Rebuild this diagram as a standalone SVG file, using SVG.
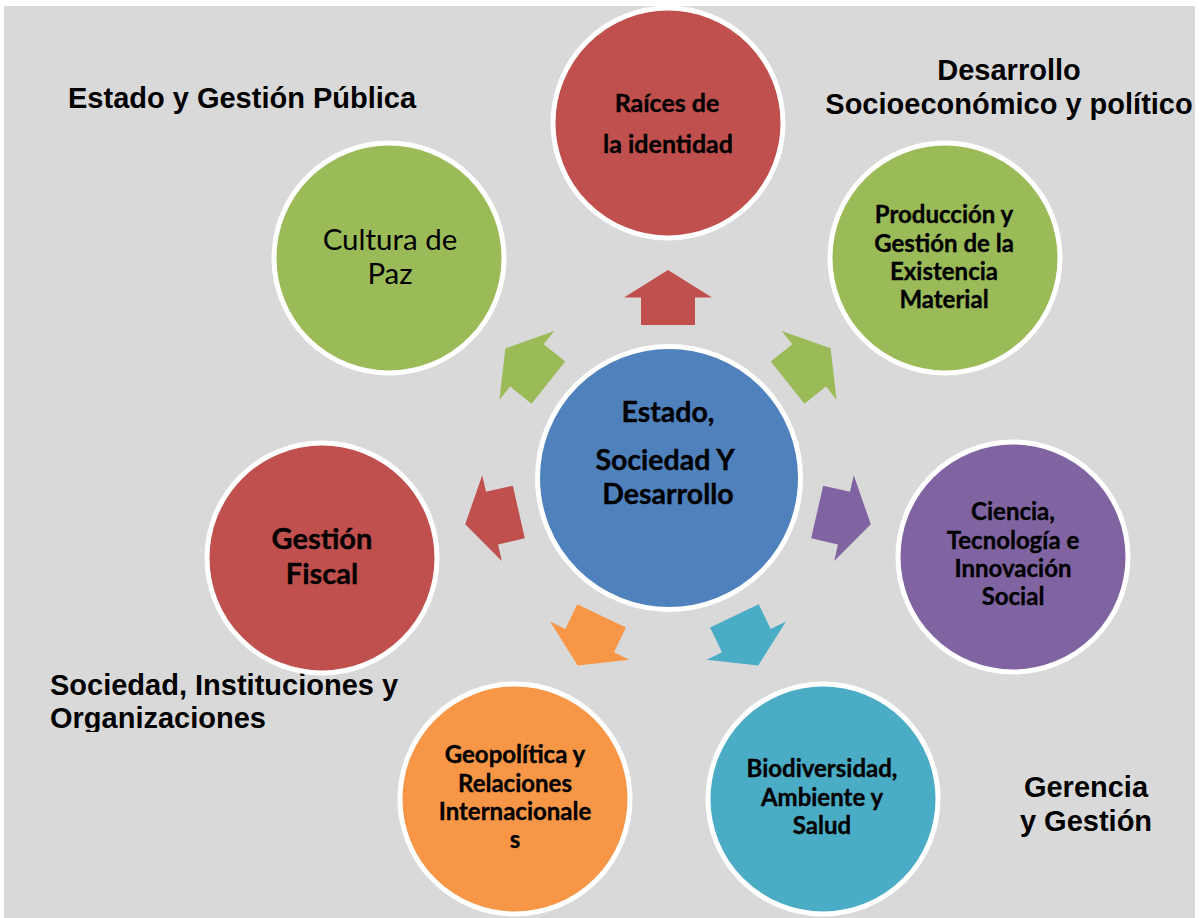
<svg xmlns="http://www.w3.org/2000/svg" width="1201" height="918" viewBox="0 0 1201 918">
  <style>
    .node { stroke: #ffffff; stroke-width: 5; }
    .red { fill: #c0504d; }
    .green { fill: #9bbb59; }
    .blue { fill: #4f81bd; }
    .purple { fill: #8064a2; }
    .orange { fill: #f79646; }
    .teal { fill: #4bacc6; }
    .lbl { font-family: Lato, "Carlito", "Liberation Sans", sans-serif; font-weight: bold; font-size: 24px; fill: #000; stroke: #000; stroke-width: 0.35; text-anchor: middle; }
    .mid { font-size: 25px; }
    .big { font-size: 29px; }
    .ctr { font-size: 28.5px; }
    .reg { font-family: Lato, "Carlito", "Liberation Sans", sans-serif; font-weight: normal; font-size: 29.5px; fill: #000; text-anchor: middle; }
    .head { font-family: "Liberation Sans", Arial, sans-serif; font-weight: bold; font-size: 29px; fill: #000; }
  </style>
  <defs>
    <path id="arrow" d="M668,270 L712,297.5 L695,297.5 L695,325 L641,325 L641,297.5 L624,297.5 Z"/>
    <clipPath id="clipOrg"><rect x="0" y="0" width="1201" height="732"/></clipPath>
  </defs>

  <rect x="4" y="6" width="1191" height="912" fill="#d9d9d9"/>

  <g id="headings">
    <text class="head" x="68" y="108">Estado y Gestión Pública</text>
    <text class="head" x="1009" y="80" text-anchor="middle">Desarrollo</text>
    <text class="head" x="1009" y="114" text-anchor="middle">Socioeconómico y político</text>
    <g clip-path="url(#clipOrg)">
      <text class="head" x="50" y="695">Sociedad, Instituciones y</text>
      <text class="head" x="50" y="728">Organizaciones</text>
    </g>
    <text class="head" x="1086" y="797" text-anchor="middle">Gerencia</text>
    <text class="head" x="1086" y="831" text-anchor="middle">y Gestión</text>
  </g>

  <g id="connectors">
    <use href="#arrow" class="red"/>
    <use href="#arrow" class="green" transform="rotate(51.4286 668 478)"/>
    <use href="#arrow" class="purple" transform="rotate(102.857 668 478)"/>
    <use href="#arrow" class="teal" transform="rotate(154.286 668 478)"/>
    <use href="#arrow" class="orange" transform="rotate(205.714 668 478)"/>
    <use href="#arrow" class="red" transform="rotate(257.143 668 478)"/>
    <use href="#arrow" class="green" transform="rotate(308.571 668 478)"/>
  </g>

  <g id="center">
    <circle class="node blue" cx="669" cy="478" r="131.5"/>
    <text class="lbl ctr" x="668" y="422">Estado,</text>
    <text class="lbl ctr" x="665" y="470">Sociedad Y</text>
    <text class="lbl ctr" x="668" y="504">Desarrollo</text>
  </g>

  <g id="raices">
    <circle class="node red" cx="668" cy="123" r="115"/>
    <text class="lbl mid" x="667" y="112">Raíces de</text>
    <text class="lbl mid" x="668" y="153">la identidad</text>
  </g>

  <g id="produccion">
    <circle class="node green" cx="945" cy="258" r="115"/>
    <text class="lbl" x="944" y="223">Producción y</text>
    <text class="lbl" x="944" y="252">Gestión de la</text>
    <text class="lbl" x="944" y="280">Existencia</text>
    <text class="lbl" x="944" y="308">Material</text>
  </g>

  <g id="ciencia">
    <circle class="node purple" cx="1013" cy="557" r="115"/>
    <text class="lbl" x="1013" y="520">Ciencia,</text>
    <text class="lbl" x="1013" y="549">Tecnología e</text>
    <text class="lbl" x="1013" y="577">Innovación</text>
    <text class="lbl" x="1013" y="605">Social</text>
  </g>

  <g id="biodiversidad">
    <circle class="node teal" cx="823" cy="799" r="115"/>
    <text class="lbl" x="822" y="777">Biodiversidad,</text>
    <text class="lbl" x="822" y="806">Ambiente y</text>
    <text class="lbl" x="822" y="834">Salud</text>
  </g>

  <g id="geopolitica">
    <circle class="node orange" cx="515" cy="799" r="115"/>
    <text class="lbl" x="515" y="763">Geopolítica y</text>
    <text class="lbl" x="515" y="792">Relaciones</text>
    <text class="lbl" x="515" y="820">Internacionale</text>
    <text class="lbl" x="515" y="848">s</text>
  </g>

  <g id="fiscal">
    <circle class="node red" cx="322" cy="558" r="115"/>
    <text class="lbl big" x="322" y="549">Gestión</text>
    <text class="lbl big" x="322" y="584">Fiscal</text>
  </g>

  <g id="cultura">
    <circle class="node green" cx="389" cy="258" r="115"/>
    <text class="reg" x="390" y="250">Cultura de</text>
    <text class="reg" x="390" y="284">Paz</text>
  </g>
</svg>
